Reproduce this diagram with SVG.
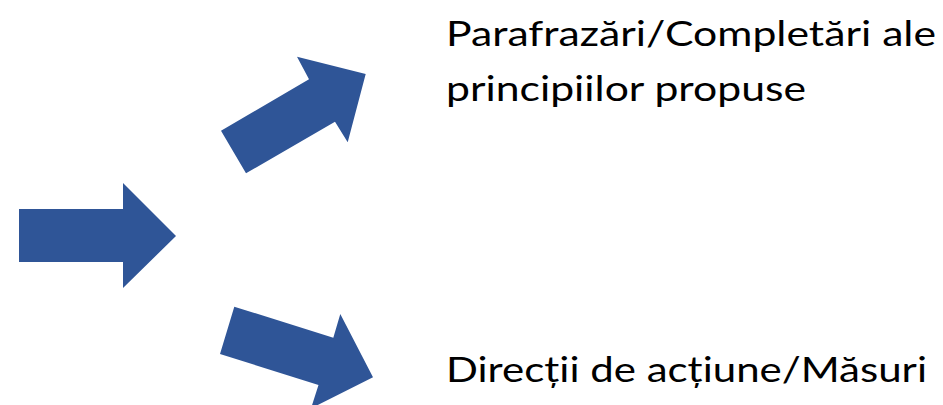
<svg xmlns="http://www.w3.org/2000/svg" width="943" height="405" viewBox="0 0 943 405">
  <style>
    .arrow { fill: #2F5597; stroke: none; }
    .label { font-family: Lato, "Open Sans", "Liberation Sans", sans-serif; font-size: 34px; fill: #000000; }
  </style>
  <rect width="943" height="405" fill="#ffffff"/>
  <g id="connectors">
    <polygon class="arrow" points="19,209 123,209 123,183 176,236 123,288 123,262 19,262"/>
    <polygon class="arrow" points="221,130.7 309,79.3 297,56.7 365.7,74 347.7,142.3 335,121.7 246,173.3"/>
    <polygon class="arrow" points="234.3,306.7 333.3,337.7 340.3,314 373,377.3 311,408.4 318.5,384.9 220,354"/>
  </g>
  <g id="node-parafrazari">
    <text class="label" x="446" y="45.5" textLength="490" lengthAdjust="spacingAndGlyphs">Parafrazări/Completări ale</text>
    <text class="label" x="446" y="101" textLength="360" lengthAdjust="spacingAndGlyphs">principiilor propuse</text>
  </g>
  <g id="node-directii">
    <text class="label" x="446" y="381.5" textLength="481" lengthAdjust="spacingAndGlyphs">Direcții de acțiune/Măsuri</text>
  </g>
</svg>
